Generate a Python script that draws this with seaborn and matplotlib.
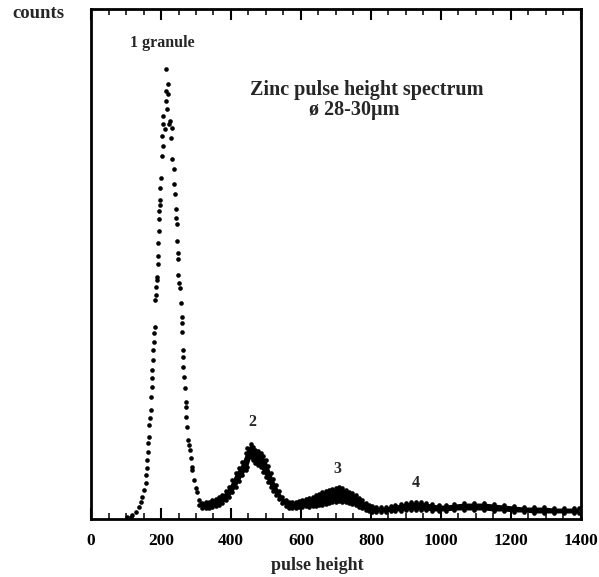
import matplotlib
matplotlib.use("Agg")
import matplotlib.pyplot as plt
from matplotlib.ticker import MultipleLocator
import pandas as pd
import seaborn as sns

# peak 1 : dots (pulse height, counts in arbitrary units)
p1_x = [104, 113, 118, 128, 137, 142, 147, 151, 156, 158, 159, 161, 162, 164, 165,
        166, 168, 171, 172, 173, 174, 175, 177, 178, 180, 181, 182, 184, 185, 186,
        188, 189, 190, 191, 192, 193, 194, 195, 196, 197, 198, 199, 202, 206, 204,
        211, 206, 206, 218, 215, 221, 213, 220, 215,
        223, 227, 231, 228, 232, 237, 238, 239, 242, 244, 247, 246, 249, 249, 249,
        251, 253, 256, 259, 259, 261, 263, 263, 264, 266, 269, 271, 271, 272, 275,
        278, 280, 282, 285, 288, 289, 294, 299, 304]
p1_y = [2, 2, 4, 7, 12, 17, 22, 29, 36, 44, 51, 59, 67, 76, 82,
        94, 101, 109, 122, 132, 141, 149, 159, 169, 177, 186, 192, 219, 224, 232,
        239, 242, 256, 264, 277, 289, 301, 309, 315, 320, 332, 342, 364, 374, 384,
        391, 396, 404, 411, 419, 426, 429, 436, 451,
        396, 399, 392, 382, 361, 351, 336, 326, 311, 302, 296, 279, 267, 261, 244,
        236, 231, 216, 202, 196, 187, 169, 162, 152, 142, 131, 117, 112, 102, 92,
        79, 74, 69, 61, 52, 49, 39, 31, 27]

# dense part of the spectrum (peaks 2, 3, 4 and tail): upper and lower edge of the band
band_x = [309, 318, 328, 337, 347, 356, 366, 375, 385, 394, 404, 413, 423, 432, 442,
          447, 456, 463, 470, 477, 485, 491, 499, 506, 513, 520, 528, 537, 547, 556,
          566, 575, 585, 594, 604, 613, 623, 633, 642, 651, 661, 671, 680, 690, 699,
          709, 718, 728, 737, 747, 756, 766, 775, 785, 794, 804, 813, 828, 842, 856,
          870, 885, 899, 913, 928, 942, 956, 975, 994, 1013, 1037, 1066, 1094, 1123,
          1151, 1180, 1209, 1237, 1266, 1294, 1323, 1351, 1380, 1394]
band_top = [19, 16, 17, 17, 19, 20, 22, 24, 28, 32, 39, 46, 51, 57, 66,
            71, 75, 72, 69, 68, 66, 63, 59, 53, 46, 40, 34, 28, 22, 19,
            17, 17, 17, 18, 19, 20, 21, 22, 24, 25, 27, 28, 29, 30, 31,
            32, 31, 29, 27, 26, 24, 21, 19, 16, 14, 13, 12, 12, 12, 13,
            14, 15, 16, 17, 17, 17, 16, 15, 14, 14, 15, 16, 16, 16,
            15, 14, 13, 12, 12, 12, 11, 11, 11, 11]
band_bot = [14, 11, 11, 11, 12, 13, 14, 16, 19, 22, 27, 32, 38, 44, 49,
            52, 62, 59, 56, 54, 52, 47, 42, 37, 32, 28, 24, 20, 16, 13,
            11, 11, 11, 12, 12, 13, 12, 13, 13, 14, 14, 15, 16, 17, 17,
            18, 17, 17, 16, 15, 14, 12, 11, 9, 8, 7, 7, 7, 7, 8,
            8, 8, 9, 9, 9, 9, 9, 8, 8, 8, 9, 9, 9, 9,
            8, 8, 7, 7, 6, 6, 6, 6, 6, 6]

x_ticks = [0, 200, 400, 600, 800, 1000, 1200, 1400]

sns.set_style("ticks")
plt.rcParams['font.family'] = ['Liberation Serif', 'DejaVu Serif']
plt.rcParams['font.weight'] = 'bold'

W, H = 599, 577
fig = plt.figure(figsize=(W / 100, H / 100), dpi=100)
ax = fig.add_axes([91 / W, 1 - 519 / H, 490 / W, 510 / H])

# band core, then the dots
ax.fill_between(band_x, band_bot, band_top, color='black', linewidth=0)
dots = pd.DataFrame({'x': p1_x + band_x + band_x,
                     'y': p1_y + band_top + band_bot})
sns.scatterplot(data=dots, x='x', y='y', ax=ax, color='black', s=11,
                linewidth=0, legend=False)

ax.set_xlim(0, 1400)
ax.set_ylim(0, 511)
ax.set_xticks(x_ticks)
ax.set_xticklabels([str(t) for t in x_ticks], fontsize=12.5, fontweight='bold')
ax.xaxis.set_minor_locator(MultipleLocator(50))
ax.set_yticks([])
ax.set_xlabel('')
ax.set_ylabel('')
ax.tick_params(axis='x', which='major', direction='in', top=True, bottom=True,
               length=8, width=1.5, pad=10, colors='black')
ax.tick_params(axis='x', which='minor', direction='in', top=True, bottom=True,
               length=4, width=1.3)
for sp in ax.spines.values():
    sp.set_visible(True)
    sp.set_linewidth(2)
    sp.set_color('black')

# annotations
ax.text(203, 477, '1 granule', ha='center', va='center', fontsize=11.5, fontweight='bold')
ax.text(461, 97, '2', ha='center', va='center', fontsize=11.5, fontweight='bold')
ax.text(704, 50, '3', ha='center', va='center', fontsize=11.5, fontweight='bold')
ax.text(927, 36, '4', ha='center', va='center', fontsize=11.5, fontweight='bold')
ax.text(789, 430, 'Zinc pulse height spectrum', ha='center', va='center',
        fontsize=14.5, fontweight='bold')
ax.text(751, 410, 'ø 28-30µm', ha='center', va='center', fontsize=14.5, fontweight='bold')

fig.text(38 / W, 1 - 14 / H, 'counts', ha='center', va='center', fontsize=13.5, fontweight='bold')
fig.text(317 / W, 1 - 566 / H, 'pulse height', ha='center', va='center',
         fontsize=13, fontweight='bold')

fig.savefig('out.png', dpi=100)
